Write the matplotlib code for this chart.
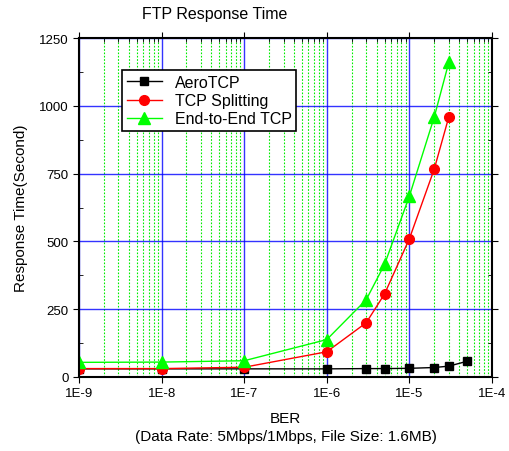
import numpy as np
import matplotlib
matplotlib.use("Agg")
import matplotlib.pyplot as plt
from matplotlib.ticker import LogLocator, FixedLocator

plt.rcParams['font.family'] = ['Liberation Sans', 'DejaVu Sans']

# Data
ber_aero = [1e-9, 1e-8, 1e-7, 1e-6, 3e-6, 5e-6, 1e-5, 2e-5, 3e-5, 5e-5]
aero_tcp = [30, 30, 30, 30, 31, 31, 32, 35, 40, 58]

ber_other = [1e-9, 1e-8, 1e-7, 1e-6, 3e-6, 5e-6, 1e-5, 2e-5, 3e-5]
tcp_split = [31, 31, 36, 93, 200, 306, 510, 767, 959]
end_to_end = [54, 55, 60, 138, 285, 415, 667, 959, 1160]

xtick_labels = ["1E-9", "1E-8", "1E-7", "1E-6", "1E-5", "1E-4"]
yticks = [0, 250, 500, 750, 1000, 1250]

fig = plt.figure(figsize=(5.1, 4.52), dpi=100)
ax = fig.add_axes([79/510, 1 - 378/452, (492-79)/510, (378-39)/452])

ax.set_xscale("log")
ax.set_xlim(1e-9, 1e-4)
ax.set_ylim(0, 1250)

# grid
ax.xaxis.set_minor_locator(LogLocator(base=10, subs=np.arange(2, 10)))
ax.grid(True, which="major", axis="both", color="#0000ff", lw=1.0, alpha=0.8)
ax.grid(True, which="minor", axis="x", color="#00ee00", lw=0.8, ls=(0, (1.5, 1.5)))

ax.plot(ber_aero, aero_tcp, "-s", color="black", lw=1, ms=6, label="AeroTCP", zorder=3)
ax.plot(ber_other, tcp_split, "-o", color="red", lw=1, ms=7, label="TCP Splitting", zorder=3)
ax.plot(ber_other, end_to_end, "-^", color="#00ff00", lw=1, ms=8, label="End-to-End TCP", zorder=3)

ax.set_xticks([1e-9, 1e-8, 1e-7, 1e-6, 1e-5, 1e-4])
ax.set_xticklabels(xtick_labels)
ax.set_yticks(yticks)
ax.yaxis.set_minor_locator(FixedLocator([125, 375, 625, 875, 1125]))
ax.tick_params(axis="both", which="major", labelsize=9.5, direction="out", length=4,
               top=True, right=True)
ax.tick_params(axis="both", which="minor", direction="in", length=3, top=True, right=True)
ax.tick_params(axis="x", which="minor", bottom=False)
for sp in ax.spines.values():
    sp.set_linewidth(1.5)
    sp.set_zorder(4)

leg = ax.legend(loc="upper left", bbox_to_anchor=(0.104, 0.905), borderaxespad=0,
                fontsize=11.5, fancybox=False, edgecolor="black", framealpha=1,
                handlelength=2.2, borderpad=0.3, labelspacing=0.2)
leg.get_frame().set_linewidth(1.2)

ax.set_xlabel("BER\n(Data Rate: 5Mbps/1Mbps, File Size: 1.6MB)", fontsize=11, labelpad=8,
              linespacing=1.4)
ax.set_ylabel("Response Time(Second)", fontsize=11, labelpad=8)
fig.text(215/510, 1 - 15/452, "FTP Response Time", ha="center", va="center", fontsize=11.5)

fig.savefig("out.png", dpi=100)
